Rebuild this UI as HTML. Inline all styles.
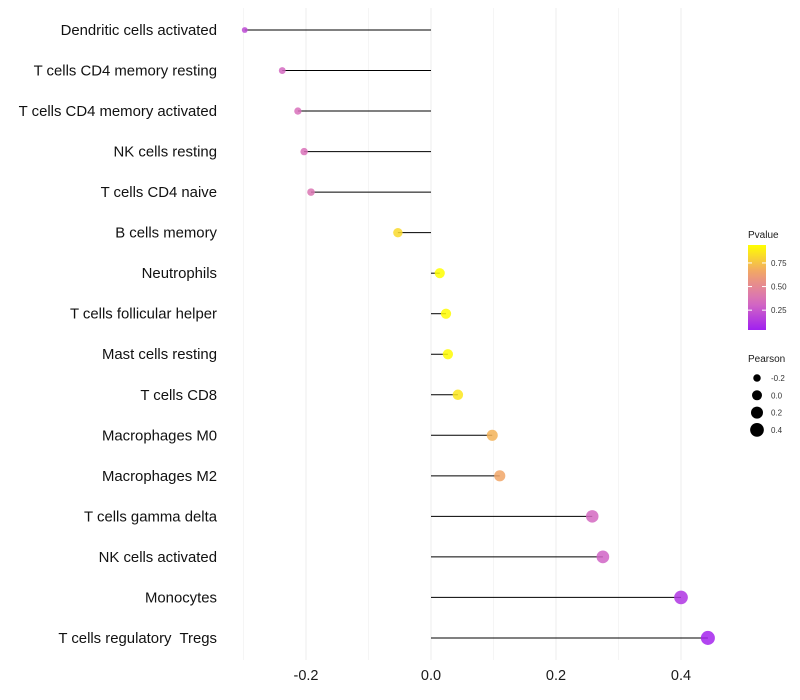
<!DOCTYPE html>
<html><head><meta charset="utf-8"><style>
body{margin:0;background:#fff;font-family:"Liberation Sans",sans-serif;}
svg{display:block}
text{white-space:pre}
</style></head><body>
<svg id="chart" width="800" height="700"></svg>
<script>
const categories=["Dendritic cells activated","T cells CD4 memory resting","T cells CD4 memory activated","NK cells resting","T cells CD4 naive","B cells memory","Neutrophils","T cells follicular helper","Mast cells resting","T cells CD8","Macrophages M0","Macrophages M2","T cells gamma delta","NK cells activated","Monocytes","T cells regulatory  Tregs"];
const pearson=[-0.298,-0.238,-0.213,-0.203,-0.192,-0.053,0.014,0.024,0.027,0.043,0.098,0.110,0.258,0.275,0.400,0.443];
const pvalue=[0.2,0.32,0.35,0.36,0.38,0.82,0.95,0.93,0.93,0.86,0.7,0.66,0.32,0.3,0.12,0.06];
const xTicks=[-0.2,0,0.2,0.4];
const xTickLabels=["-0.2","0.0","0.2","0.4"];
const xMinor=[-0.3,-0.1,0.1,0.3];
const colorTicks=[0.25,0.5,0.75];
const sizeLegend=[-0.2,0,0.2,0.4];

const NS="http://www.w3.org/2000/svg";
const svg=document.getElementById('chart');
function mk(tag,attrs,parent){const e=document.createElementNS(NS,tag);for(const k in attrs)e.setAttribute(k,attrs[k]);(parent||svg).appendChild(e);return e;}
const x=v=>431+v*625;
const y=i=>30+i*40.53;
const r=p=>Math.sqrt(Math.max(3,25+55*p));
function lerp(a,b,t){return a.map((v,i)=>Math.round(v+(b[i]-v)*t));}
function col(p){const t=Math.min(1,Math.max(0,(p-0.04)/0.9));
 const s=[[160,32,240],[215,110,190],[240,160,110],[255,255,0]];
 const seg=Math.min(2,Math.floor(t*3));return `rgb(${lerp(s[seg],s[seg+1],t*3-seg)})`;}

xMinor.forEach(v=>{const l=mk('line',{x1:x(v),x2:x(v),y1:8,y2:660,stroke:'#f5f5f5','stroke-width':1});
});
xTicks.forEach((v,i)=>{const l=mk('line',{x1:x(v),x2:x(v),y1:8,y2:660,stroke:'#eeeeee','stroke-width':1});

const t=mk('text',{x:x(v),y:680,'text-anchor':'middle','font-size':14.5,fill:'#1a1a1a'});t.textContent=xTickLabels[i];
});

categories.forEach((c,i)=>{
 const t=mk('text',{x:217,y:y(i)+5,'text-anchor':'end','font-size':14.9,fill:'#111'});t.textContent=c;
 
 const l=mk('line',{x1:x(0),x2:x(pearson[i]),y1:y(i),y2:y(i),stroke:'#000','stroke-width':1});
 
 const d=mk('circle',{cx:x(pearson[i]),cy:y(i),r:r(pearson[i]),fill:col(pvalue[i]),'fill-opacity':0.85});
 
});

const lt=mk('text',{x:748,y:238,'font-size':10,fill:'#1a1a1a'});lt.textContent='Pvalue';

const defs=mk('defs',{});const g=mk('linearGradient',{id:'cg',x1:0,y1:1,x2:0,y2:0},defs);
for(let k=0;k<=10;k++){mk('stop',{offset:k/10,'stop-color':col(0.04+0.9*k/10)},g);}
const cb=mk('rect',{x:748,y:245,width:18,height:85,fill:'url(#cg)'});

const cy=p=>330-(p-0.04)/0.9*85;
colorTicks.forEach(p=>{mk('line',{x1:748,x2:752,y1:cy(p),y2:cy(p),stroke:'#fff'});mk('line',{x1:762,x2:766,y1:cy(p),y2:cy(p),stroke:'#fff'});
 const t=mk('text',{x:771,y:cy(p)+3,'font-size':8,fill:'#333'});t.textContent=p.toFixed(2);
 });
const st=mk('text',{x:748,y:362,'font-size':10,fill:'#1a1a1a'});st.textContent='Pearson';

sizeLegend.forEach((p,i)=>{const yy=378+i*17.3;
 const c=mk('circle',{cx:757,cy:yy,r:r(p),fill:'#000'});
 const t=mk('text',{x:771,y:yy+3,'font-size':8,fill:'#333'});t.textContent=p.toFixed(1);
 });
</script>
</body></html>
